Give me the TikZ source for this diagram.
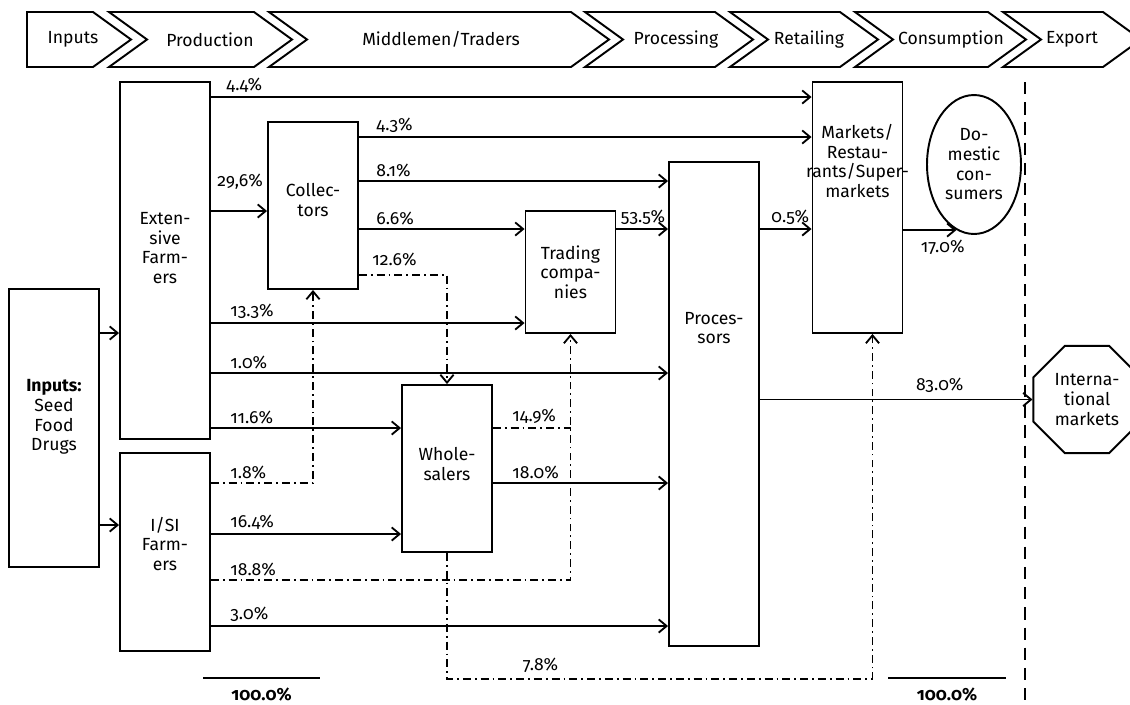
\documentclass[tikz,border=0pt]{standalone}
\usepackage{fontspec}
\setmainfont{Fira Sans}[Numbers=OldStyle]
\usetikzlibrary{arrows.meta, positioning, calc, shapes.geometric}

\tikzset{
  box/.style={draw, line width=1.1pt, inner sep=0pt, minimum width=1.8cm},
  txt/.style={align=center, inner sep=0pt},
  stage/.style={line width=1.1pt, line join=miter},
  flow/.style={line width=1.05pt, -{Straight Barb[length=4.5pt,width=7.5pt]}},
  ddash/.style={line width=1.05pt, dash pattern=on 4.5pt off 2.3pt on 1pt off 2.3pt},
  dflow/.style={ddash, -{Straight Barb[length=4.5pt,width=7.5pt]}},
  lab/.style={above right, inner sep=2pt, xshift=0.3cm},
  total/.style={font=\bfseries, inner sep=0pt}
}

\begin{document}
\begin{tikzpicture}[x=0.02cm, y=-0.02cm, font=\fontsize{10}{11.2}\selectfont]
  \useasboundingbox (0,0) rectangle (1130,704);

  % value chain stages
  \draw[stage] (27,12) -- (93,12) -- (131,39.5) -- (93,67) -- (27,67) -- cycle;
  \node[txt] (h0) at (73,39.5) {Inputs};
  \foreach \l/\r/\c/\t [count=\i] in {109/254/210/Production, 269/571/441/{Middlemen/Traders},
      585/715/676/Processing, 730/840/809/Retailing, 855/988/951/Consumption, 1003/1103/1072/Export} {
    \draw[stage] (\l,12) -- (\r,12) -- (\r+38,39.5) -- (\r,67) -- (\l,67) -- (\l+38,39.5) -- cycle;
    \node[txt] (h\i) at (\c,39.5) {\t};
  }

  % actors
  \node[box, minimum height=5.56cm] (inp) at (54,428) {};
  \node[txt] (inpT) at (54,417) {\textbf{Inputs:}\\Seed\\Food\\Drugs};
  \node[box, minimum height=7.14cm] (ext) at (165,260.5) {};
  \node[txt] (extT) at (165,248) {Exten-\\sive\\Farm-\\ers};
  \node[box, minimum height=3.96cm] (isi) at (165,552) {};
  \node[txt] (isiT) at (165,544) {I/SI\\Farm-\\ers};
  \node[box, minimum height=3.34cm] (col) at (313,205.5) {};
  \node[txt] (colT) at (313,200) {Collec-\\tors};
  \node[box, minimum height=3.34cm] (whl) at (447,468.5) {};
  \node[txt] (whlT) at (447,464) {Whole-\\salers};
  \node[box, minimum height=2.44cm] (trd) at (570.5,272) {};
  \node[txt] (trdT) at (570.5,272) {Trading\\compa-\\nies};
  \node[box, minimum height=9.68cm] (pro) at (714,404) {};
  \node[txt] (proT) at (714,328) {Proces-\\sors};
  \node[box, minimum height=5.02cm] (mkt) at (857.5,207.5) {};
  \node[txt] (mktT) at (857.5,161) {Markets/\\Restau-\\rants/Super-\\markets};
  \node[draw, line width=1.1pt, ellipse, inner sep=0pt, minimum width=1.88cm, minimum height=2.78cm, align=center]
    (dom) at (974,164.5) {Do-\\mestic\\con-\\sumers};
  \node[draw, line width=1.1pt, regular polygon, regular polygon sides=8, inner sep=0pt, minimum size=2.32cm, align=center]
    (intl) at (1087,399.5) {Interna-\\tional\\markets};

  % export border
  \draw[line width=1pt, dash pattern=on 7pt off 4.5pt] (1025,82) -- (1025,704);

  % inputs
  \draw[flow] (inp.east |- 0,333) -- (ext.west |- 0,333);
  \draw[flow] (inp.east |- 0,525) -- (isi.west |- 0,525);

  % extensive farmers
  \draw[flow] (ext.east |- 0,97) node[lab, xshift=-0.08cm] {4.4\%} -- (mkt.west |- 0,97);
  \draw[flow] (ext.east |- 0,211) node[lab, xshift=-0.26cm, yshift=0.34cm] {29,6\%} -- (col.west |- 0,211);
  \draw[flow] (ext.east |- 0,323) node[lab] {13.3\%} -- (trd.west |- 0,323);
  \draw[flow] (ext.east |- 0,373) node[lab] {1.0\%} -- (pro.west |- 0,373);
  \draw[flow] (ext.east |- 0,428) node[lab] {11.6\%} -- (whl.west |- 0,428);

  % I/SI farmers
  \draw[dflow] (isi.east |- 0,483) node[lab] {1.8\%} -| (col.south);
  \draw[flow] (isi.east |- 0,534) node[lab] {16.4\%} -- (whl.west |- 0,534);
  \draw[dflow] (isi.east |- 0,580) node[lab] {18.8\%} -| (trd.south);
  \draw[flow] (isi.east |- 0,626) node[lab] {3.0\%} -- (pro.west |- 0,626);

  % collectors
  \draw[flow] (col.east |- 0,137) node[lab, xshift=-0.04cm] {4.3\%} -- (mkt.west |- 0,137);
  \draw[flow] (col.east |- 0,181) node[lab, xshift=-0.04cm] {8.1\%} -- (pro.west |- 0,181);
  \draw[flow] (col.east |- 0,229) node[lab, xshift=-0.04cm] {6.6\%} -- (trd.west |- 0,229);
  \draw[dflow] (col.east |- 0,275) node[lab, xshift=-0.12cm, yshift=0.1cm] {12.6\%} -| (whl.north);

  % wholesalers
  \draw[ddash] (whl.east |- 0,428) node[lab] {14.9\%} -- (trd.south |- 0,428);
  \draw[flow] (whl.east |- 0,483) node[lab] {18.0\%} -- (pro.west |- 0,483);
  \draw[dflow] (whl.south) -- ++(0,126) -| node[above, pos=0.11] {7.8\%} ($(mkt.south)+(15,0)$);

  % trading companies, processors, retail
  \draw[flow] (trd.east |- 0,229) node[lab, xshift=-0.3cm] {53.5\%} -- (pro.west |- 0,229);
  \draw[flow] (pro.east |- 0,229) node[lab, xshift=-0.16cm] {0.5\%} -- (mkt.west |- 0,229);
  \draw[flow] (pro.east |- intl.west) -- node[above, pos=0.66] {83.0\%} (intl.west);
  \draw[flow] (mkt.east |- dom.255) node[below right, inner sep=2pt, xshift=0.26cm, yshift=-0.12cm] {17.0\%} -- (dom.255);

  % totals
  \draw[line width=1pt] (203,678) -- node[total, below=0.17cm] (totL) {100.0\%} (320,678);
  \draw[line width=1pt] (888,678) -- node[total, below=0.17cm] (totR) {100.0\%} (1006,678);
\end{tikzpicture}
\end{document}
